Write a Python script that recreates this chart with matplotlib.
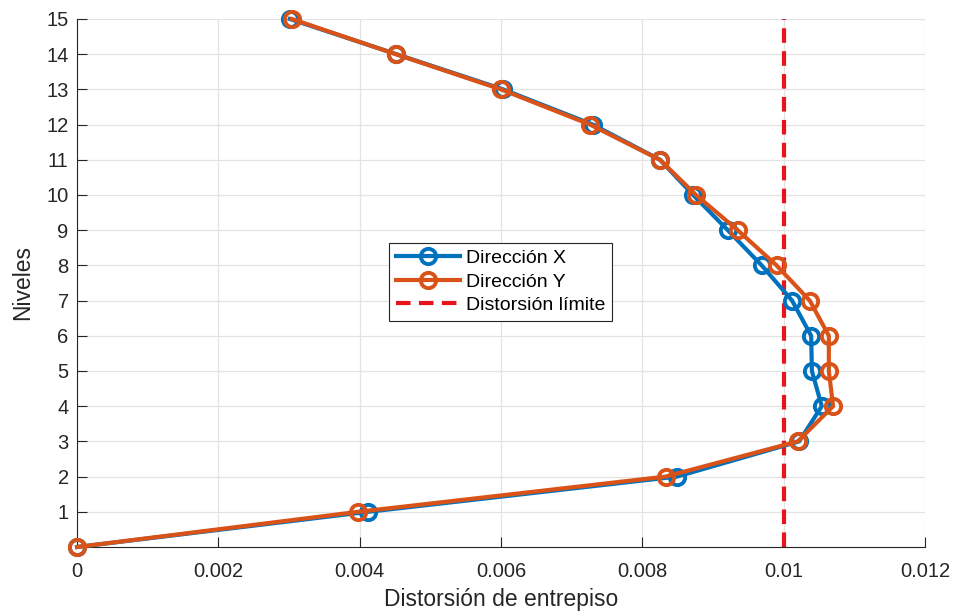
import numpy as np
import matplotlib
matplotlib.use("Agg")
import matplotlib.pyplot as plt

plt.rcParams['font.family'] = ['Liberation Sans', 'DejaVu Sans']

# niveles y distorsiones de entrepiso
niveles = [0, 1, 2, 3, 4, 5, 6, 7, 8, 9, 10, 11, 12, 13, 14, 15]
dist_x = [0.0, 0.00412, 0.00849, 0.01022, 0.01054, 0.01040, 0.01039, 0.01012,
          0.00969, 0.00921, 0.00872, 0.00825, 0.00730, 0.00603, 0.00452, 0.00301]
dist_y = [0.0, 0.00398, 0.00833, 0.01020, 0.01070, 0.01064, 0.01064, 0.01037,
          0.00990, 0.00935, 0.00876, 0.00825, 0.00726, 0.00600, 0.00451, 0.00304]
dist_limite = 0.01

xticks = [0, 0.002, 0.004, 0.006, 0.008, 0.01, 0.012]
xtick_labels = ['0', '0.002', '0.004', '0.006', '0.008', '0.01', '0.012']
yticks = list(range(1, 16))

fig = plt.figure(figsize=(9.57, 6.12), dpi=100)
ax = fig.add_axes([0.0805, 0.1062, 0.886, 0.8628])

mk = dict(marker='o', markersize=11, markerfacecolor='none', markeredgewidth=2.8,
          clip_on=False, zorder=3)
ax.plot(dist_x, niveles, color='#0072BD', linewidth=3.0, label='Dirección X', **mk)
ax.plot(dist_y, niveles, color='#D95319', linewidth=3.0, label='Dirección Y', **mk)
ax.axvline(dist_limite, color='#E8141B', linewidth=3, linestyle=(0, (3.5, 2)),
           label='Distorsión límite', zorder=2)

ax.set_xlim(0, 0.012)
ax.set_ylim(0, 15)
ax.set_xticks(xticks)
ax.set_xticklabels(xtick_labels)
ax.set_yticks(yticks)
ax.grid(True, color='#E3E3E3', linewidth=0.9)
ax.set_axisbelow(True)

for s in ['top', 'right']:
    ax.spines[s].set_visible(False)
for s in ['left', 'bottom']:
    ax.spines[s].set_color('#262626')
    ax.spines[s].set_linewidth(0.8)
ax.tick_params(direction='in', length=7, width=0.8, colors='#262626',
               labelsize=14.5, pad=6)
ax.tick_params(axis='x', pad=11)

ax.set_xlabel('Distorsión de entrepiso', fontsize=16.5, color='#262626', labelpad=5)
ax.set_ylabel('Niveles', fontsize=16.5, color='#262626', labelpad=9)

leg = ax.legend(loc='center', bbox_to_anchor=(0.5, 0.502), fontsize=14,
                handlelength=3.3, handletextpad=0.3, borderpad=0.35,
                labelspacing=0.3, fancybox=False, framealpha=1)
leg.get_frame().set_edgecolor('#262626')
leg.get_frame().set_linewidth(0.8)

fig.savefig('out.png', dpi=100)
